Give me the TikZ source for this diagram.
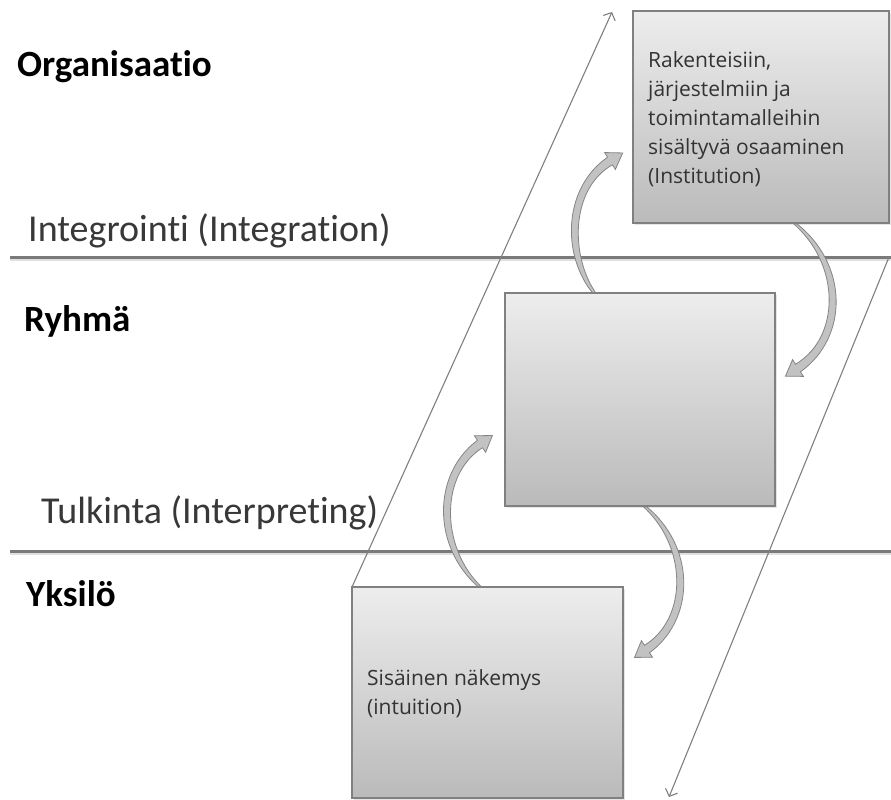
\documentclass[tikz,border=0pt]{standalone}
\usepackage{fontspec}
\setmainfont{Carlito}[Ligatures={NoCommon}]
\newfontfamily\boxfont{Open Sans}
\usetikzlibrary{calc,arrows.meta,shadows}

\tikzset{
  sepline/.style={draw=black!52, line width=3pt},
  sepshadow/.style={draw=black!12, line width=2.5pt},
  flowline/.style={draw=black!50, line width=1.1pt,
    -{Straight Barb[length=6pt,width=13pt,line width=1.1pt]}},
  levelbox/.style={draw=black!50, line width=1.1pt, top color=black!7,
    bottom color=black!27, inner sep=0pt, outer sep=0pt, anchor=north west,
    drop shadow={shadow xshift=2pt, shadow yshift=-2pt, opacity=0.2}},
  curvearrow/.style={draw=black!48, line width=0.8pt, fill=black!24},
  heading/.style={font=\fontsize{37}{40}\selectfont\bfseries, anchor=base west,
    inner sep=0pt, text=black},
  process/.style={font=\fontsize{38}{42}\selectfont, anchor=base west,
    inner sep=0pt, text=black!78},
  boxtext/.style={font=\boxfont\fontsize{21}{29}\selectfont, align=left,
    anchor=north west, inner sep=0pt, text=black!80},
}

% Curved block arrow: tail at the scope origin, rising and bulging to the left.
% #1 = bulge of the control points, #2 = x of the body end, #3 = height
\newcommand{\bentarrow}[3]{%
  \coordinate (ba-e) at (#2,-#3);
  \coordinate (ba-c) at (-#1,-0.79*#3);
  \coordinate (ba-d) at ($(ba-e)!-1!(ba-c)$);
  \path[curvearrow]
    (-1.5,0) .. controls (-#1-4,-0.28*#3) and (-#1-4,-0.79*#3) .. ($(ba-e)!4.5pt!90:(ba-d)$)
    -- ($(ba-e)!10pt!90:(ba-d)$) -- ($(ba-e)!15pt!(ba-d)$) -- ($(ba-e)!10pt!-90:(ba-d)$)
    -- ($(ba-e)!4.5pt!-90:(ba-d)$)
    .. controls (-#1+4,-0.79*#3) and (-#1+4,-0.28*#3) .. (1.5,0) -- cycle;
}

\begin{document}
\begin{tikzpicture}[x=1pt,y=-1pt]
  \useasboundingbox[fill=white] (0,0) rectangle (891,800);

  % level separators
  \coordinate (l1w) at (10,257);
  \coordinate (l1e) at (891,257);
  \coordinate (l2w) at (10,551);
  \coordinate (l2e) at (891,551);
  \draw[sepshadow] ($(l1w)+(0,2.5)$) -- ($(l1e)+(0,2.5)$);
  \draw[sepshadow] ($(l2w)+(0,2.5)$) -- ($(l2e)+(0,2.5)$);
  \draw[sepline] (l1w) -- (l1e);
  \draw[sepline] (l2w) -- (l2e);

  % curved feed-forward / feedback arrows
  \begin{scope}[shift={(480,587)}]\bentarrow{44}{0}{143}\end{scope}
  \begin{scope}[shift={(595,294)}]\bentarrow{29}{15}{133}\end{scope}
  \begin{scope}[shift={(793,222)},rotate=180]\bentarrow{52}{-5}{146}\end{scope}
  \begin{scope}[shift={(643,505)},rotate=180]\bentarrow{49}{-4}{144}\end{scope}

  % level boxes
  \node[levelbox, minimum width=256pt, minimum height=212pt] (org) at (633,11) {};
  \node[levelbox, minimum width=270pt, minimum height=213pt] (grp) at (505,293) {};
  \node[levelbox, minimum width=271pt, minimum height=211pt] (ind) at (352,587) {};

  % diagonal flows
  \coordinate (uptip) at (612,12);
  \coordinate (downstart) at (889,257);
  \coordinate (downtip) at (669,797);
  \draw[flowline] (ind.north west) -- (uptip);
  \draw[flowline] (downstart) -- (downtip);

  % box texts
  \node[boxtext] (orgtext) at (648,51) {Rakenteisiin,\\järjestelmiin ja\\toimintamalleihin\\sisältyvä osaaminen\\(Institution)};
  \node[boxtext] (indtext) at (367,669) {Sisäinen näkemys\\(intuition)};

  % level and process labels
  \node[heading] (lorg) at (17,77) {Organisaatio};
  \node[process] (lint) at (28,241) {Integrointi (Integration)};
  \node[heading] (lgrp) at (24,331) {Ryhmä};
  \node[process] (ltul) at (41,523) {Tulkinta (Interpreting)};
  \node[heading] (lind) at (26,606) {Yksilö};
\end{tikzpicture}
\end{document}
